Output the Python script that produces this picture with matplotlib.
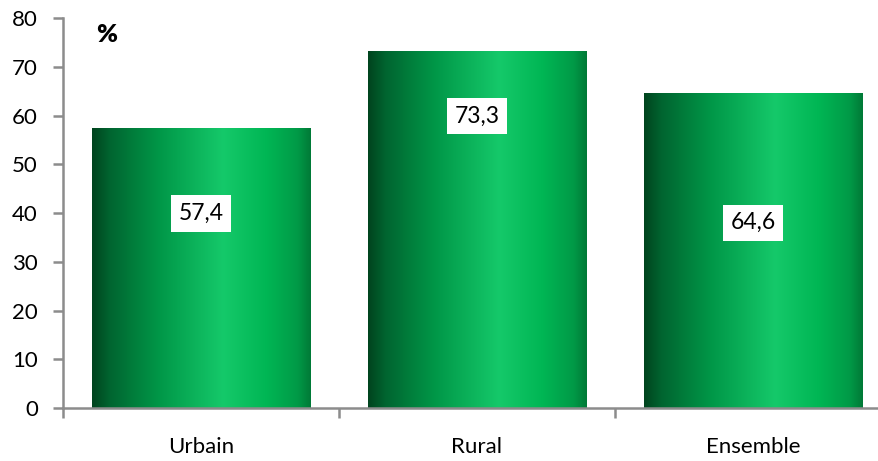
import matplotlib
matplotlib.use("Agg")
import matplotlib.pyplot as plt
import numpy as np
from matplotlib.colors import LinearSegmentedColormap

categories = ["Urbain", "Rural", "Ensemble"]
values = [57.4, 73.3, 64.6]
value_labels = ["57,4", "73,3", "64,6"]
yticks = [0, 10, 20, 30, 40, 50, 60, 70, 80]

# where the white value boxes sit, in data units
LABEL_Y = [39.9, 59.9, 38.0]
BAR_WIDTH = 0.79
AXIS_GRAY = "#8c8c8c"

plt.rcParams["font.family"] = ["Lato", "DejaVu Sans"]

green_cmap = LinearSegmentedColormap.from_list(
    "bar_green",
    [
        (0.0, "#00441e"),
        (0.08, "#006530"),
        (0.30, "#009647"),
        (0.60, "#15c96a"),
        (0.80, "#00b654"),
        (0.94, "#009a47"),
        (1.0, "#007a37"),
    ],
)
gradient = np.linspace(0, 1, 256).reshape(1, -1)

fig = plt.figure(figsize=(8.79, 4.61), dpi=100)
ax = fig.add_axes([63 / 879, 53 / 461, 828 / 879, 390 / 461])

x = np.arange(len(categories))
bars = ax.bar(x, values, width=BAR_WIDTH, facecolor="none", edgecolor="none")
for rect in bars:
    x0 = rect.get_x()
    im = ax.imshow(
        gradient,
        cmap=green_cmap,
        aspect="auto",
        extent=(x0, x0 + rect.get_width(), 0, rect.get_height()),
        zorder=2,
    )
    im.set_clip_path(rect)

for xi, ly, lab in zip(x, LABEL_Y, value_labels):
    ax.text(
        xi, ly, lab, ha="center", va="center", fontsize=16.5, color="black",
        bbox=dict(boxstyle="square,pad=0.33", facecolor="white", edgecolor="none"),
        zorder=4,
    )

ax.set_xlim(-0.5, len(categories) - 0.5)
ax.set_ylim(0, 80)
ax.set_yticks(yticks)
ax.set_yticklabels([str(t) for t in yticks], fontsize=16)
ax.set_xticks(x)
ax.set_xticklabels(categories, fontsize=16)
ax.tick_params(axis="x", length=0, pad=21)
ax.set_xticks(np.arange(-0.5, len(categories)), minor=True)
ax.tick_params(axis="x", which="minor", length=7, width=1.8, color=AXIS_GRAY, direction="out")
ax.tick_params(axis="y", length=7, width=1.8, color=AXIS_GRAY, pad=11)

for side in ("top", "right"):
    ax.spines[side].set_visible(False)
for side in ("left", "bottom"):
    ax.spines[side].set_color(AXIS_GRAY)
    ax.spines[side].set_linewidth(1.8)

fig.text(107 / 879, 1 - 35 / 461, "%", fontsize=18, fontweight="heavy", ha="center", va="center")

fig.savefig("out.png", dpi=100)
